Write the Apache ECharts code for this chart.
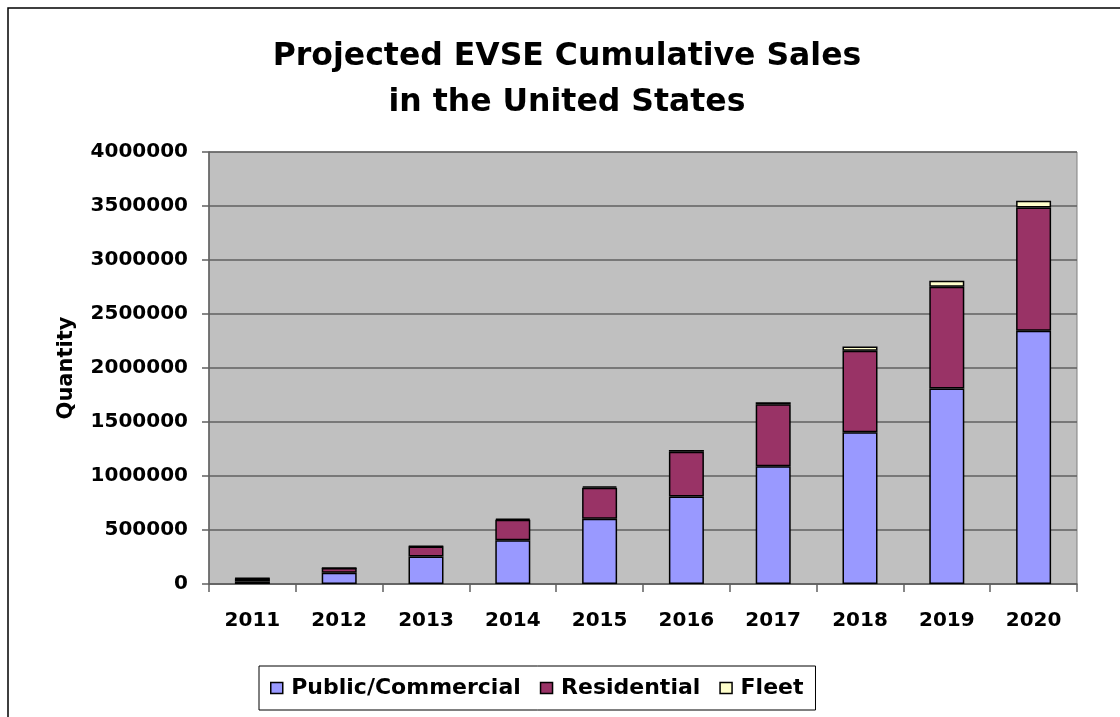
<!DOCTYPE html>
<html>
<head>
<meta charset="utf-8">
<script src="https://cdn.jsdelivr.net/npm/echarts@6/dist/echarts.min.js"></script>
<style>
  html, body { margin: 0; padding: 0; background: #ffffff; }
  #chart { width: 1120px; height: 717px; }
</style>
</head>
<body>
<div id="chart"></div>
<script>
// Projected EVSE cumulative sales in the United States, by segment
const years = ['2011', '2012', '2013', '2014', '2015', '2016', '2017', '2018', '2019', '2020'];
const publicCommercial = [22000, 105000, 255000, 405000, 605000, 810000, 1090000, 1404000, 1811000, 2345000];
const residential = [30000, 42000, 92000, 190000, 287000, 415000, 575000, 756000, 942000, 1142000];
const fleet = [3000, 3000, 4000, 10000, 12000, 15000, 17000, 40000, 55000, 62000];
const yTicks = { min: 0, max: 4000000, interval: 500000 };

const FONT = '"DejaVu Sans", "Liberation Sans", Arial, sans-serif';
const chart = echarts.init(document.getElementById('chart'), null, { renderer: 'canvas' });

const barStyle = (color) => ({ color: color, borderColor: '#000000', borderWidth: 1.5 });
const legendMark = { borderColor: '#000000', borderWidth: 1.5 };

chart.setOption({
  backgroundColor: '#ffffff',
  animation: false,
  title: {
    text: 'Projected EVSE Cumulative Sales\nin the United States',
    left: 567,
    top: 34,
    padding: 0,
    textAlign: 'center',
    textStyle: { fontFamily: FONT, fontSize: 31.5, fontWeight: 'bold', color: '#000000', lineHeight: 46 }
  },
  legend: {
    left: 259,
    top: 666,
    itemWidth: 12,
    itemHeight: 11,
    itemGap: 19,
    padding: [11, 12, 11, 11],
    borderColor: '#000000',
    borderWidth: 1,
    icon: 'rect',
    textStyle: { fontFamily: FONT, fontSize: 22, fontWeight: 'bold', color: '#000000', padding: [0, 0, 0, 3.5] },
    data: [
      { name: 'Public/Commercial', itemStyle: legendMark },
      { name: 'Residential', itemStyle: legendMark },
      { name: 'Fleet', itemStyle: legendMark }
    ]
  },
  grid: {
    left: 209, right: 43, top: 152, bottom: 133,
    show: true, backgroundColor: '#c0c0c0', borderColor: '#808080', borderWidth: 1
  },
  xAxis: {
    type: 'category',
    data: years,
    boundaryGap: true,
    axisLine: { lineStyle: { color: '#606060', width: 1.5 } },
    axisTick: { show: true, length: 8, lineStyle: { color: '#606060', width: 1.5 } },
    axisLabel: { fontFamily: FONT, fontSize: 20, fontWeight: 'bold', color: '#000000', margin: 27 }
  },
  yAxis: {
    type: 'value',
    min: yTicks.min, max: yTicks.max, interval: yTicks.interval,
    name: 'Quantity',
    nameLocation: 'middle',
    nameGap: 132,
    nameRotate: 90,
    nameTextStyle: { fontFamily: FONT, fontSize: 21, fontWeight: 'bold', color: '#000000' },
    axisLine: { show: true, lineStyle: { color: '#606060', width: 1.5 } },
    axisTick: { show: true, length: 7, lineStyle: { color: '#606060', width: 1.5 } },
    splitLine: { show: true, lineStyle: { color: '#606060', width: 1.5 } },
    axisLabel: {
      fontFamily: FONT, fontSize: 20, fontWeight: 'bold', color: '#000000', margin: 21,
      formatter: (v) => String(v)
    }
  },
  series: [
    { name: 'Public/Commercial', type: 'bar', stack: 'total', barWidth: 35, data: publicCommercial, itemStyle: barStyle('#9999ff') },
    { name: 'Residential', type: 'bar', stack: 'total', barWidth: 35, data: residential, itemStyle: barStyle('#993366') },
    { name: 'Fleet', type: 'bar', stack: 'total', barWidth: 35, data: fleet, itemStyle: barStyle('#ffffcc') }
  ],
  graphic: [
    { type: 'polyline', shape: { points: [[8, 717], [8, 8], [1120, 8]] }, style: { stroke: '#000000', lineWidth: 1.5, fill: null }, silent: true }
  ]
});
</script>
</body>
</html>
